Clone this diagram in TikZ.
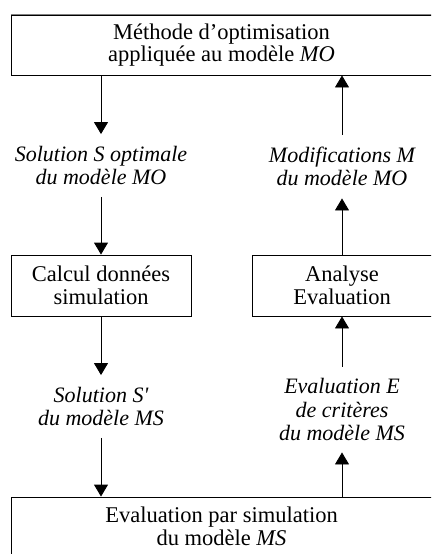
\documentclass[tikz,border=0pt]{standalone}
\usepackage{fontspec}
\setmainfont{Liberation Serif}[Ligatures={Common,TeXOff}]
\usetikzlibrary{arrows.meta}
\begin{document}
\begin{tikzpicture}[x=1pt,y=-1pt,line width=0.9pt,
  box/.style={draw,rectangle,inner sep=0pt,align=center,font=\fontsize{22.5}{22.5}\selectfont},
  lab/.style={inner sep=0pt,align=center,font=\fontsize{22}{23.5}\selectfont\itshape},
  arr/.style={-{Triangle[width=14pt,length=12pt]}}]
\useasboundingbox (0,0) rectangle (431,554);
\clip (0,0) rectangle (431,554);
\node[box,minimum width=421pt,minimum height=60pt] (top) at (221.5,45) {Méthode d’optimisation\\appliquée au modèle \textit{MO}};
\draw[gray,line width=1.4pt] (top.north west) -- (top.north east);
\node[box,minimum width=180pt,minimum height=61pt] (calcul) at (101,285.5) {Calcul données\\simulation};
\node[box,minimum width=180pt,minimum height=61pt] (analyse) at (342,285.5) {Analyse\\Evaluation};
\node[box,minimum width=421pt,minimum height=59pt] (bottom) at (221.5,526.5) {Evaluation par simulation\\du modèle \textit{MS}};
\node[lab,minimum height=62pt] (lab1) at (101,165.5) {Solution S optimale\\du modèle MO};
\node[lab,minimum height=62pt] (lab2) at (101,406.5) {Solution S'\\du modèle MS};
\node[lab,minimum height=85pt] (lab3) at (342,409.5) {Evaluation E\\de critères\\du modèle MS};
\node[lab,minimum height=63pt] (lab4) at (342,166.5) {Modifications M\\du modèle MO};
\draw[arr] (top.south -| lab1) -- (lab1.north);
\draw[arr] (lab1.south) -- (calcul.north);
\draw[arr] (calcul.south) -- (lab2.north);
\draw[arr] (lab2.south) -- (bottom.north -| lab2);
\draw[arr] (bottom.north -| lab3) -- (lab3.south);
\draw[arr] (lab3.north) -- (analyse.south);
\draw[arr] (analyse.north) -- (lab4.south);
\draw[arr] (lab4.north) -- (top.south -| lab4);
\end{tikzpicture}
\end{document}
